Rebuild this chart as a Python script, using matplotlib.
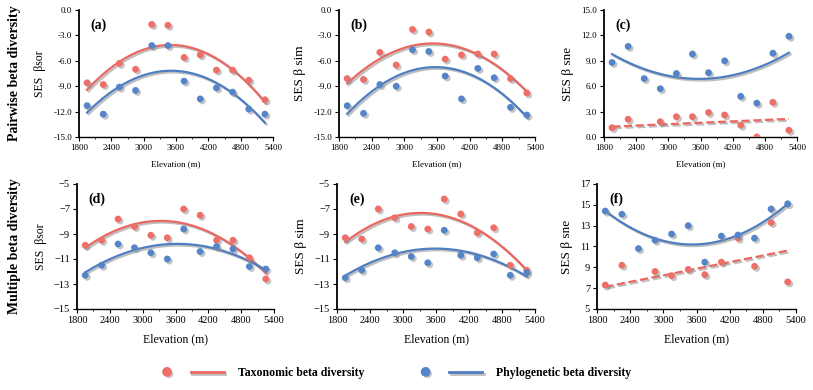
import numpy as np
import matplotlib
matplotlib.use("Agg")
import matplotlib.pyplot as plt
import matplotlib.patheffects as pe
from matplotlib.lines import Line2D
from matplotlib.legend_handler import HandlerTuple

plt.rcParams['font.family'] = ['Liberation Serif', 'DejaVu Serif']

# elevation of the 12 sampling bands (m)
elev = [1950, 2250, 2550, 2850, 3150, 3450, 3750, 4050, 4350, 4650, 4950, 5250]

# pairwise (row 1)
a_tax = [-8.6, -8.8, -6.3, -7.0, -1.7, -1.8, -5.6, -5.3, -7.1, -7.1, -8.3, -10.6]
a_phy = [-11.3, -12.3, -9.1, -9.5, -4.2, -4.2, -8.4, -10.5, -9.2, -9.7, -11.7, -12.3]
b_tax = [-8.1, -8.2, -5.0, -6.5, -2.3, -2.6, -5.8, -5.3, -5.2, -5.2, -8.1, -9.8]
b_phy = [-11.3, -12.2, -8.8, -9.0, -4.7, -4.9, -7.8, -10.5, -6.9, -8.0, -11.5, -12.4]
# 2550 m value falls below the axis (not visible in the figure)
c_tax = [1.1, 2.1, -1.4, 1.8, 2.4, 2.4, 2.9, 2.6, 1.4, 0.0, 4.1, 0.8]
c_phy = [8.8, 10.7, 6.9, 5.7, 7.5, 9.8, 7.6, 9.0, 4.8, 4.0, 9.9, 11.9]

# multiple-site (row 2)
d_tax = [-9.9, -9.5, -7.8, -8.4, -9.1, -9.3, -7.0, -7.5, -9.5, -9.5, -10.9, -12.6]
d_phy = [-12.3, -11.5, -9.8, -10.1, -10.5, -11.0, -8.6, -10.4, -10.0, -10.2, -11.6, -11.8]
e_tax = [-9.3, -9.4, -7.0, -7.7, -8.4, -8.6, -6.2, -7.4, -8.9, -8.5, -11.5, -11.9]
e_phy = [-12.5, -11.9, -10.1, -10.5, -10.8, -11.3, -8.7, -10.7, -10.9, -10.6, -12.3, -12.1]
f_tax = [7.3, 9.2, 4.7, 8.6, 8.2, 8.8, 8.3, 9.5, 11.8, 9.1, 13.3, 7.6]
f_phy = [14.4, 14.1, 10.8, 11.6, 12.2, 13.0, 9.5, 12.0, 12.1, 11.8, 14.6, 15.1]

panels = ["(a)", "(b)", "(c)", "(d)", "(e)", "(f)"]
ylabels = ["SES  βsor", "SES β sim", "SES β sne", "SES  βsor", "SES β sim", "SES β sne"]
row_titles = ["Pairwise beta diversity", "Multiple beta diversity"]

RED = "#EE6E68"
BLUE = "#5585C8"
LRED = "#E9675F"
LBLUE = "#4E7DC2"

pt_fx = [pe.SimplePatchShadow(offset=(1.5, -1.5), shadow_rgbFace="0.55", alpha=0.5), pe.Normal()]
ln_fx = [pe.SimpleLineShadow(offset=(1.2, -1.2), shadow_color="0.5", alpha=0.5), pe.Normal()]

fig = plt.figure(figsize=(8.13, 3.9), dpi=100)
W, H = 813, 390
boxes = [(79, 10, 273, 137), (339, 10, 535, 137), (604, 10, 797, 137),
         (77, 184, 274, 309), (337, 184, 535, 309), (597, 184, 796, 309)]
axes = [fig.add_axes([l / W, 1 - b / H, (r - l) / W, (b - t) / H]) for l, t, r, b in boxes]

series = [(a_tax, a_phy, 2, 2), (b_tax, b_phy, 2, 2), (c_tax, c_phy, 1, 2),
          (d_tax, d_phy, 2, 2), (e_tax, e_phy, 2, 2), (f_tax, f_phy, 1, 2)]
ylims = [(-15, 0, 3), (-15, 0, 3), (0, 15, 3), (-15, -5, 2), (-15, -5, 2), (5, 17, 2)]

x = np.array(elev, dtype=float)
xs = np.linspace(x.min(), x.max(), 200)

for i, ax in enumerate(axes):
    tax, phy, dtax, dphy = series[i]
    row = i // 3
    for vals, col, lcol, deg in [(tax, RED, LRED, dtax), (phy, BLUE, LBLUE, dphy)]:
        y = np.array(vals, dtype=float)
        ax.scatter(x, y, s=24, color=col, zorder=3, path_effects=pt_fx, linewidths=0)
        coef = np.polyfit(x, y, deg)
        ls = "--" if deg == 1 else "-"
        ax.plot(xs, np.polyval(coef, xs), color=lcol, lw=1.6, ls=ls, zorder=2,
                path_effects=ln_fx)
    lo, hi, step = ylims[i]
    ax.set_ylim(lo, hi)
    ax.set_yticks(np.arange(lo, hi + 0.01, step))
    if row == 0:
        ax.set_yticklabels([f"{v:.1f}" for v in np.arange(lo, hi + 0.01, step)])
    ax.set_xlim(1800, 5400)
    ax.set_xticks(np.arange(1800, 5401, 600))
    ax.set_xticks(np.arange(1800, 5401, 300), minor=True)
    for s in ["top", "right"]:
        ax.spines[s].set_visible(False)
    ax.spines["left"].set_linewidth(1.3)
    ax.spines["bottom"].set_linewidth(1.0)
    ax.tick_params(axis="both", which="major", labelsize=6.5 if row == 0 else 7.5,
                   length=3, width=0.8, pad=2)
    ax.tick_params(axis="x", which="minor", length=1.5, width=0.6)
    ax.set_xlabel("Elevation (m)", fontsize=6.5 if row == 0 else 8.5, labelpad=6)
    ax.set_ylabel(ylabels[i], fontsize=8.5 if i % 3 == 0 else 9.5, labelpad=5)
    ax.text(0.06, 0.93, panels[i], transform=ax.transAxes, fontsize=10,
            fontweight="bold", va="top", ha="left")

for r, t in enumerate(row_titles):
    l, top, rr, b = boxes[r * 3]
    fig.text(15 / W, 1 - (top + b) / 2 / H, t, rotation=90, fontsize=10,
             fontweight="bold", ha="center", va="center")

handles = []
for col, lcol in [(RED, LRED), (BLUE, LBLUE)]:
    dot = Line2D([], [], marker="o", ls="none", color=col, markersize=6,
                 path_effects=pt_fx)
    ln = Line2D([], [], color=lcol, lw=2, path_effects=ln_fx)
    handles.append((dot, ln))
fig.legend(handles, ["Taxonomic beta diversity", "Phylogenetic beta diversity"],
           handler_map={tuple: HandlerTuple(ndivide=None, pad=0.6)},
           loc="center", bbox_to_anchor=(0.481, 1 - 373 / H), ncol=2, frameon=False,
           handlelength=6.2, columnspacing=3.8, handletextpad=1.2,
           prop={"weight": "bold", "size": 8.5})

fig.savefig("out.png", dpi=100)
